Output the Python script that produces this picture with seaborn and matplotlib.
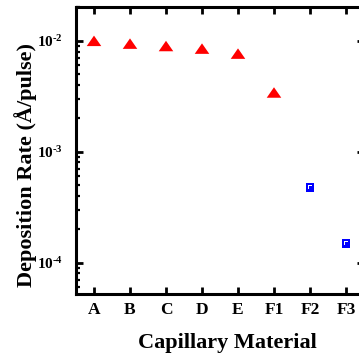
import numpy as np
import pandas as pd
import seaborn as sns
import matplotlib
matplotlib.use("Agg")
import matplotlib.pyplot as plt
from matplotlib.path import Path
from matplotlib.ticker import FixedLocator, FuncFormatter, LogLocator, NullFormatter

# ---- data ----
materials = ["A", "B", "C", "D", "E", "F1", "F2", "F3"]
rates = [0.0100, 0.00944, 0.00898, 0.00851, 0.00767, 0.00342, 0.000474, 0.000148]
groups = ["tri", "tri", "tri", "tri", "tri", "tri", "sq", "sq"]
y_ticks = [1e-4, 1e-3, 1e-2]

df = pd.DataFrame({"material": materials, "rate": rates, "group": groups})

sns.set_theme(style="ticks")
plt.rcParams["font.family"] = ["Liberation Serif", "DejaVu Serif"]
plt.rcParams["font.weight"] = "bold"
plt.rcParams["mathtext.fontset"] = "custom"
plt.rcParams["mathtext.rm"] = "Liberation Serif:bold"
plt.rcParams["mathtext.bf"] = "Liberation Serif:bold"
plt.rcParams["mathtext.it"] = "Liberation Serif:bold"
for k in ["text.color", "axes.labelcolor", "xtick.color", "ytick.color",
          "xtick.labelcolor", "ytick.labelcolor", "axes.edgecolor"]:
    plt.rcParams[k] = "black"

# custom markers
tri = Path([(0, 0.72), (-1, -0.72), (1, -0.72), (0, 0.72)],
           [Path.MOVETO, Path.LINETO, Path.LINETO, Path.CLOSEPOLY])
outer = [(-1, -1), (1, -1), (1, 1), (-1, 1), (-1, -1)]
hole = [(-0.565, 0.739), (0.478, 0.739), (0.478, 0.391), (-0.217, 0.391),
        (-0.217, -0.304), (-0.565, -0.304), (-0.565, 0.739)]
codes = ([Path.MOVETO] + [Path.LINETO] * 3 + [Path.CLOSEPOLY]) + \
        ([Path.MOVETO] + [Path.LINETO] * 5 + [Path.CLOSEPOLY])
sq = Path(outer + hole, codes)

fig = plt.figure(figsize=(3.59, 3.56), dpi=100)
ax = fig.add_axes([76 / 359, 62 / 356, 288 / 359, 287 / 356])

sns.scatterplot(data=df, x="material", y="rate", hue="group", style="group",
                size="group",
                palette={"tri": "#ff0000", "sq": "#0000ff"},
                markers={"tri": tri, "sq": sq},
                sizes={"tri": 110, "sq": 36},
                linewidth=0, edgecolor="none", legend=False, ax=ax, zorder=3)

ax.set_yscale("log")
ax.set_ylim(5.2e-5, 0.0202)
ax.set_xlim(-0.5, 7.5)

HYPH = "\u2010"


def fmt(v, p):
    e = int(round(np.log10(v)))
    return "$\\mathbf{10^{" + HYPH + "%d}}$" % abs(e)


ax.yaxis.set_major_locator(FixedLocator(y_ticks))
ax.yaxis.set_minor_locator(LogLocator(base=10, subs=np.arange(2, 10)))
ax.yaxis.set_minor_formatter(NullFormatter())
ax.yaxis.set_major_formatter(FuncFormatter(fmt))

for s in ax.spines.values():
    s.set_linewidth(2.2)
    s.set_color("black")

ax.tick_params(axis="both", which="major", direction="in", length=5, width=2.0,
               color="black", top=True, right=True)
ax.tick_params(axis="y", which="minor", direction="in", length=2.8, width=1.6,
               color="black", right=True, left=True)
ax.tick_params(axis="x", which="major", labelsize=12.5, pad=6)
ax.tick_params(axis="y", which="major", labelsize=11, pad=9.5)
for lab in ax.get_xticklabels():
    lab.set_fontweight("bold")

ax.set_xlabel("Capillary Material", fontsize=16, fontweight="bold")
ax.set_ylabel("Deposition Rate (Å/pulse)", fontsize=16, fontweight="bold")
ax.xaxis.set_label_coords(0.526, -0.135)
ax.yaxis.set_label_coords(-0.135, 0.45)

fig.savefig("out.png", dpi=100)
